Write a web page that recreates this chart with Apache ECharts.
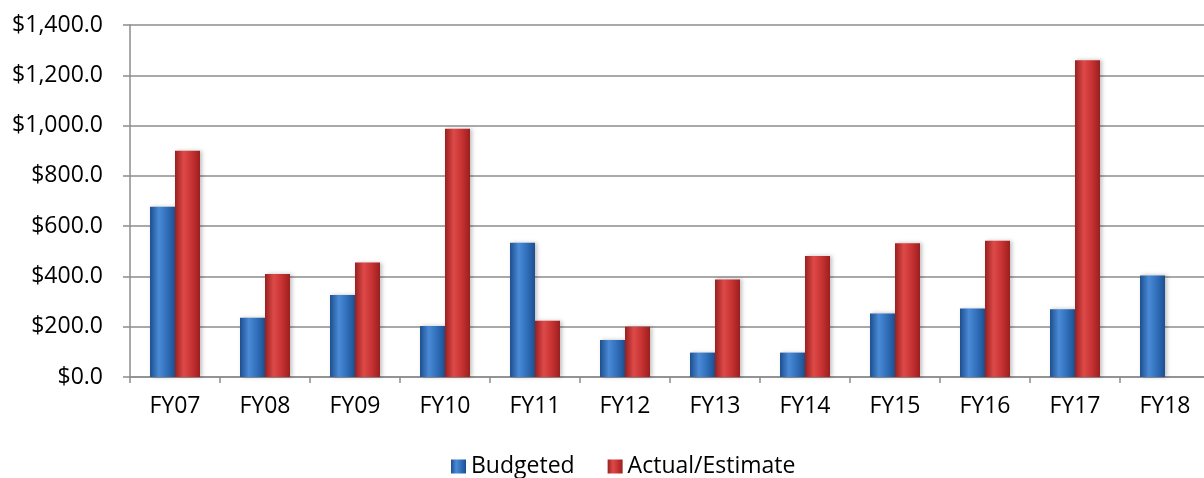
<!DOCTYPE html>
<html>
<head>
<meta charset="utf-8">
<script src="https://cdn.jsdelivr.net/npm/echarts@6/dist/echarts.min.js"></script>
<style>
  html, body { margin: 0; padding: 0; background: #fff; overflow: hidden; }
  #chart { width: 1210px; height: 478px; }
</style>
</head>
<body>
<div id="chart"></div>
<script>
// Fiscal years shown along the category axis
const years = ['FY07', 'FY08', 'FY09', 'FY10', 'FY11', 'FY12', 'FY13', 'FY14', 'FY15', 'FY16', 'FY17', 'FY18'];
// Budgeted amounts per fiscal year
const budgeted = [677, 236, 326, 203, 534, 147, 97, 97, 253, 272, 269, 404];
// Actual / estimated amounts per fiscal year (none yet for FY18)
const actual = [900, 410, 455, 987, 224, 200, 388, 481, 532, 542, 1260, null];

const FONT = '"Open Sans", Lato, sans-serif';

function barGradient(edge, mid, light) {
  return new echarts.graphic.LinearGradient(0, 0, 1, 0, [
    { offset: 0, color: edge },
    { offset: 0.35, color: light },
    { offset: 0.7, color: mid },
    { offset: 1, color: edge }
  ]);
}

const chart = echarts.init(document.getElementById('chart'), null, { renderer: 'canvas' });
chart.setOption({
  animation: false,
  textStyle: { fontFamily: FONT },
  grid: { left: 130, right: 0, top: 25, bottom: 101 },
  legend: {
    bottom: -5,
    left: 446,
    itemWidth: 15,
    itemHeight: 14,
    itemGap: 33,
    icon: 'rect',
    textStyle: { fontSize: 23, color: '#000', fontFamily: FONT },
    data: ['Budgeted', 'Actual/Estimate']
  },
  xAxis: {
    type: 'category',
    data: years,
    axisLine: { lineStyle: { color: '#8c8c8c', width: 1.5 } },
    axisTick: { show: true, length: 6, lineStyle: { color: '#8c8c8c', width: 1.5 } },
    axisLabel: { fontSize: 23, color: '#000', margin: 18, fontFamily: FONT }
  },
  yAxis: {
    type: 'value',
    min: 0,
    max: 1400,
    interval: 200,
    axisLine: { show: true, lineStyle: { color: '#8c8c8c', width: 1.5 } },
    axisTick: { show: true, length: 7, lineStyle: { color: '#8c8c8c', width: 1.5 } },
    splitLine: { lineStyle: { color: '#8c8c8c', width: 1.5 } },
    axisLabel: {
      fontSize: 23,
      color: '#000',
      margin: 27,
      fontFamily: FONT,
      formatter: v => '$' + v.toLocaleString('en-US', { minimumFractionDigits: 1, maximumFractionDigits: 1 })
    }
  },
  series: [
    {
      name: 'Budgeted',
      type: 'bar',
      data: budgeted,
      barWidth: 25,
      barGap: '0%',
      itemStyle: {
        color: barGradient('#1d4f8f', '#2f6db8', '#4a8ad6'),
        shadowColor: 'rgba(0,0,0,0.25)',
        shadowBlur: 4,
        shadowOffsetX: 2
      }
    },
    {
      name: 'Actual/Estimate',
      type: 'bar',
      data: actual,
      barWidth: 25,
      itemStyle: {
        color: barGradient('#9a1f1f', '#c53030', '#dd4a48'),
        shadowColor: 'rgba(0,0,0,0.25)',
        shadowBlur: 4,
        shadowOffsetX: 2
      }
    }
  ]
});
</script>
</body>
</html>
